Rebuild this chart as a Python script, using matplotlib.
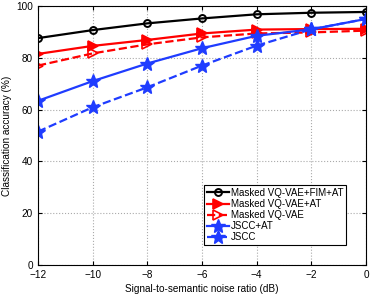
import matplotlib
matplotlib.use("Agg")
import matplotlib.pyplot as plt

snr = [-12, -10, -8, -6, -4, -2, 0]
fim_at = [87.6, 90.7, 93.3, 95.2, 96.8, 97.4, 97.7]
vq_at = [81.5, 84.6, 86.9, 89.4, 90.9, 91.1, 91.2]
vq = [77.0, 81.7, 85.2, 87.9, 89.4, 89.8, 90.5]
jscc_at = [63.4, 71.0, 77.8, 83.7, 88.5, 91.0, 95.0]
jscc = [51.5, 60.9, 68.6, 77.0, 84.7, 91.0, 95.0]

plt.rcParams['font.family'] = ['Liberation Sans', 'DejaVu Sans']
fig = plt.figure(figsize=(3.74, 3.02), dpi=100)
ax = fig.add_axes([0.1016, 0.1225, 0.877, 0.8576])

blue = '#1f3cff'
ax.plot(snr, fim_at, '-', color='black', lw=1.6, marker='o', ms=5, mfc='none', mew=1.4, label='Masked VQ-VAE+FIM+AT')
ax.plot(snr, vq_at, '-', color='red', lw=1.6, marker='>', ms=7, mfc='red', mew=1.2, label='Masked VQ-VAE+AT')
ax.plot(snr, vq, '--', color='red', lw=1.6, marker='>', ms=7, mfc='none', mew=1.2, label='Masked VQ-VAE')
ax.plot(snr, jscc_at, '-', color=blue, lw=1.6, marker='*', ms=10, mfc=blue, mew=1.0, label='JSCC+AT')
ax.plot(snr, jscc, '--', color=blue, lw=1.6, marker='*', ms=10, mfc=blue, mew=1.0, label='JSCC')

ax.set_xlim(-12, 0)
ax.set_ylim(0, 100)
ax.set_xticks(snr)
ax.set_yticks([0, 20, 40, 60, 80, 100])
ax.grid(True, linestyle=':', color='#aaaaaa', lw=0.8)
ax.tick_params(direction='in', labelsize=7.2, top=True, right=True, length=3)
for s in ax.spines.values():
    s.set_linewidth(0.8)
ax.set_xlabel('Signal-to-semantic noise ratio (dB)', fontsize=7.2, labelpad=3)
ax.set_ylabel('Classification accuracy (%)', fontsize=7.2, labelpad=3)

leg = ax.legend(loc='upper right', bbox_to_anchor=(0.954, 0.328), fontsize=7,
                handlelength=2.2, handletextpad=0.2, borderpad=0.3, labelspacing=0.12,
                fancybox=False, edgecolor='black', framealpha=1)
leg.get_frame().set_linewidth(0.8)

fig.savefig('out.png', dpi=100)
